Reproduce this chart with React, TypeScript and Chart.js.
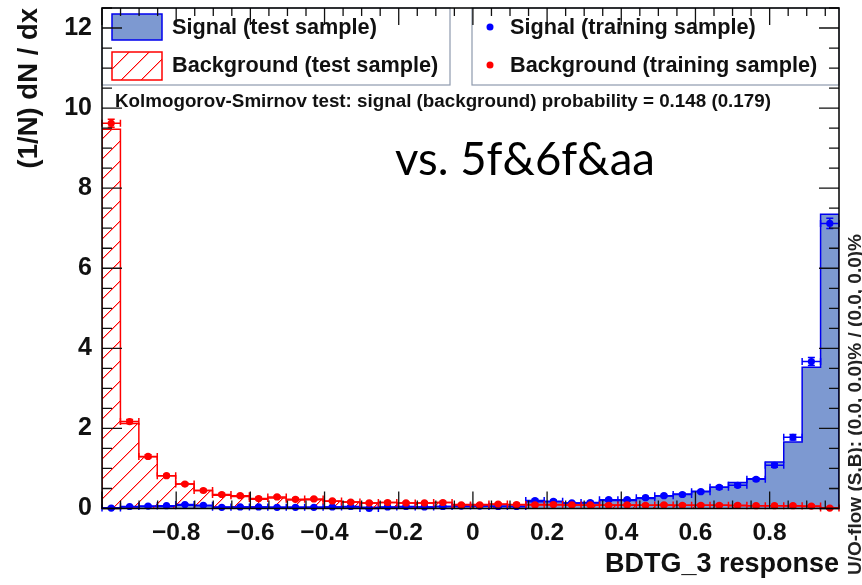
import React, { useEffect, useRef } from 'react';
import { Chart, registerables } from 'chart.js';

Chart.register(...registerables);

// ---- axis range / binning ----
const X_MIN = -1.0;
const X_MAX = 0.987;
const N_BINS = 40;
const Y_MAX = 12.5;

// ---- data (40 bins of BDTG_3 response) ----
const signalTest = [
  0.02, 0.04, 0.05, 0.05, 0.08, 0.07, 0.04, 0.04, 0.04, 0.03,
  0.03, 0.03, 0.04, 0.04, 0.03, 0.03, 0.04, 0.04, 0.05, 0.05,
  0.06, 0.06, 0.05, 0.17, 0.17, 0.14, 0.14, 0.20, 0.20, 0.25,
  0.31, 0.36, 0.43, 0.53, 0.65, 0.74, 1.16, 1.66, 3.53, 7.35,
];
const backgroundTest = [
  9.47, 2.12, 1.29, 0.82, 0.61, 0.45, 0.33, 0.30, 0.23, 0.26,
  0.21, 0.22, 0.18, 0.16, 0.14, 0.15, 0.14, 0.14, 0.15, 0.10,
  0.10, 0.10, 0.09, 0.10, 0.09, 0.09, 0.08, 0.09, 0.08, 0.08,
  0.08, 0.08, 0.08, 0.08, 0.07, 0.07, 0.07, 0.06, 0.05, 0.02,
];
const signalTrain = [
  0.01, 0.05, 0.06, 0.07, 0.10, 0.08, 0.03, 0.04, 0.04, 0.03,
  0.03, 0.03, 0.04, 0.05, 0.00, 0.04, 0.05, 0.04, 0.05, 0.06,
  0.06, 0.05, 0.05, 0.20, 0.18, 0.14, 0.15, 0.22, 0.22, 0.27,
  0.32, 0.35, 0.42, 0.53, 0.58, 0.73, 1.08, 1.78, 3.67, 7.12,
];
const signalTrainErr = [
  0.02, 0.02, 0.02, 0.02, 0.02, 0.02, 0.02, 0.02, 0.02, 0.02,
  0.02, 0.02, 0.02, 0.02, 0.02, 0.02, 0.02, 0.02, 0.02, 0.02,
  0.02, 0.02, 0.02, 0.03, 0.03, 0.03, 0.03, 0.03, 0.03, 0.03,
  0.03, 0.03, 0.03, 0.04, 0.04, 0.04, 0.05, 0.07, 0.10, 0.13,
];
const backgroundTrain = [
  9.62, 2.17, 1.30, 0.82, 0.61, 0.45, 0.35, 0.32, 0.25, 0.29,
  0.23, 0.24, 0.19, 0.16, 0.14, 0.15, 0.14, 0.14, 0.15, 0.09,
  0.09, 0.11, 0.10, 0.09, 0.10, 0.09, 0.09, 0.08, 0.09, 0.08,
  0.09, 0.08, 0.08, 0.08, 0.08, 0.07, 0.07, 0.07, 0.06, 0.01,
];
const backgroundTrainErr = [
  0.10, 0.05, 0.04, 0.03, 0.03, 0.03, 0.03, 0.03, 0.03, 0.03,
  0.03, 0.03, 0.03, 0.03, 0.03, 0.03, 0.03, 0.03, 0.03, 0.03,
  0.03, 0.03, 0.03, 0.03, 0.03, 0.03, 0.03, 0.03, 0.03, 0.03,
  0.03, 0.03, 0.03, 0.03, 0.03, 0.03, 0.03, 0.03, 0.03, 0.03,
];

// ---- ticks / texts ----
const xTickValues = [-0.8, -0.6, -0.4, -0.2, 0, 0.2, 0.4, 0.6, 0.8];
const yTickValues = [0, 2, 4, 6, 8, 10, 12];
const legendLabels = [
  'Signal (test sample)',
  'Background (test sample)',
  'Signal (training sample)',
  'Background (training sample)',
];
const ksText = 'Kolmogorov-Smirnov test: signal (background) probability = 0.148 (0.179)';
const noteText = 'vs. 5f&6f&aa';
const flowText = 'U/O-flow (S,B): (0.0, 0.0)% / (0.0, 0.0)%';
const xTitle = 'BDTG_3 response';
const yTitle = '(1/N) dN / dx';

// ---- styles ----
const SIG_FILL = '#7d99d1';
const SIG_LINE = '#0000ee';
const SIG_MARK = '#0000ff';
const BKG_LINE = '#ff0000';
const FONT = "'Liberation Sans', Arial, Helvetica, sans-serif";

const binWidth = (X_MAX - X_MIN) / N_BINS;

function histPoints(values: number[]) {
  const pts = [{ x: X_MIN, y: 0 }];
  values.forEach((v, i) => pts.push({ x: X_MIN + i * binWidth, y: v }));
  pts.push({ x: X_MAX, y: values[values.length - 1] });
  pts.push({ x: X_MAX, y: 0 });
  return pts;
}
function centerPoints(values: number[]) {
  return values.map((v, i) => ({ x: X_MIN + (i + 0.5) * binWidth, y: v }));
}

// diagonal "/" hatch (pixel staircase, pure red) inside the current clip region
function drawHatch(ctx: CanvasRenderingContext2D, x0: number, y0: number, x1: number, y1: number) {
  ctx.save();
  const X0 = Math.floor(x0), X1 = Math.ceil(x1), Y0 = Math.floor(y0), Y1 = Math.ceil(y1);
  const start = Math.floor((X0 + Y0) / 20) * 20;
  for (let c = start; c <= X1 + Y1 + 20; c += 20) {
    for (let x = X0; x <= X1; x++) {
      const y = c - x;
      if (y < Y0 - 1 || y > Y1 + 1) continue;
      ctx.fillStyle = '#ff0000';
      ctx.fillRect(x, y, 1, 1);
      ctx.fillStyle = 'rgba(255,0,0,0.35)';
      ctx.fillRect(x + 1, y, 1, 1);
    }
  }
  ctx.restore();
}

export default function App() {
  const ref = useRef<HTMLCanvasElement | null>(null);

  useEffect(() => {
    const canvas = ref.current!;
    const errMap: Record<number, number[]> = { 2: signalTrainErr, 3: backgroundTrainErr };

    const decor = {
      id: 'decor',
      beforeDatasetDraw(chart: any, args: any) {
        const { ctx, scales, chartArea: a } = chart;
        const xs = scales.x;
        const ys = scales.y;
        if (args.index === 1) {
          // hatched fill of the background test histogram
          ctx.save();
          ctx.beginPath();
          ctx.moveTo(xs.getPixelForValue(X_MIN), ys.getPixelForValue(0));
          backgroundTest.forEach((v, i) => {
            const py = ys.getPixelForValue(v);
            ctx.lineTo(xs.getPixelForValue(X_MIN + i * binWidth), py);
            ctx.lineTo(xs.getPixelForValue(X_MIN + (i + 1) * binWidth), py);
          });
          ctx.lineTo(xs.getPixelForValue(X_MAX), ys.getPixelForValue(0));
          ctx.closePath();
          ctx.clip();
          drawHatch(ctx, a.left, a.top, a.right, a.bottom);
          ctx.restore();
          return;
        }
        const err = errMap[args.index];
        if (!err) return;
        const ds = chart.data.datasets[args.index];
        ctx.save();
        ctx.strokeStyle = ds.borderColor;
        ctx.lineWidth = 1.5;
        ctx.beginPath();
        ds.data.forEach((p: any, i: number) => {
          const x0 = xs.getPixelForValue(p.x - binWidth / 2);
          const x1 = xs.getPixelForValue(p.x + binWidth / 2);
          const xc = xs.getPixelForValue(p.x);
          const yc = ys.getPixelForValue(p.y);
          const yl = ys.getPixelForValue(p.y - err[i]);
          const yh = ys.getPixelForValue(p.y + err[i]);
          ctx.moveTo(x0, yc);
          ctx.lineTo(x1, yc);
          ctx.moveTo(x0, yc - 3.5);
          ctx.lineTo(x0, yc + 3.5);
          ctx.moveTo(x1, yc - 3.5);
          ctx.lineTo(x1, yc + 3.5);
          ctx.moveTo(xc, yl);
          ctx.lineTo(xc, yh);
          ctx.moveTo(xc - 3.5, yl);
          ctx.lineTo(xc + 3.5, yl);
          ctx.moveTo(xc - 3.5, yh);
          ctx.lineTo(xc + 3.5, yh);
        });
        ctx.stroke();
        ctx.restore();
      },
      afterDatasetsDraw(chart: any) {
        const { ctx, chartArea: a, scales } = chart;
        const xs = scales.x;
        const ys = scales.y;
        ctx.save();

        // legend boxes
        ctx.strokeStyle = '#8e9aad';
        ctx.lineWidth = 1.2;
        ctx.strokeRect(a.left, a.top, 348, 77);
        ctx.strokeRect(472, a.top, a.right - 472, 77);

        ctx.fillStyle = SIG_FILL;
        ctx.fillRect(112, 14, 50, 26);
        ctx.strokeStyle = SIG_LINE;
        ctx.lineWidth = 1.5;
        ctx.strokeRect(112, 14, 50, 26);
        ctx.save();
        ctx.beginPath();
        ctx.rect(112, 52, 50, 28);
        ctx.clip();
        drawHatch(ctx, 112, 52, 162, 80);
        ctx.restore();
        ctx.strokeStyle = BKG_LINE;
        ctx.lineWidth = 1.5;
        ctx.strokeRect(112, 52, 50, 28);

        ctx.fillStyle = SIG_MARK;
        ctx.beginPath();
        ctx.arc(490, 27, 3.5, 0, Math.PI * 2);
        ctx.fill();
        ctx.fillStyle = BKG_LINE;
        ctx.beginPath();
        ctx.arc(490, 65, 3.5, 0, Math.PI * 2);
        ctx.fill();

        ctx.fillStyle = '#111';
        ctx.font = `bold 21.7px ${FONT}`;
        ctx.textBaseline = 'middle';
        ctx.textAlign = 'left';
        ctx.fillText(legendLabels[0], 172, 28);
        ctx.fillText(legendLabels[1], 172, 66);
        ctx.fillText(legendLabels[2], 510, 28);
        ctx.fillText(legendLabels[3], 510, 66);

        ctx.font = `bold 18.8px ${FONT}`;
        ctx.fillText(ksText, 115, 102);

        ctx.font = `45.5px Lato, 'Open Sans', sans-serif`;
        ctx.textAlign = 'center';
        ctx.fillStyle = '#000';
        ctx.fillText(noteText, 525, 160);

        // ticks
        ctx.strokeStyle = '#111';
        ctx.lineWidth = 1.3;
        ctx.beginPath();
        for (let k = 0; k <= 25; k++) {
          const v = k * 0.5;
          const py = ys.getPixelForValue(v);
          const len = k % 4 === 0 ? 20 : 10;
          ctx.moveTo(a.left, py);
          ctx.lineTo(a.left + len, py);
          ctx.moveTo(a.right, py);
          ctx.lineTo(a.right - len, py);
        }
        for (let k = -20; k <= 20; k++) {
          const v = k * 0.05;
          if (v < X_MIN - 1e-9 || v > X_MAX) continue;
          const px = xs.getPixelForValue(v);
          const len = k % 4 === 0 ? 17 : 8;
          ctx.moveTo(px, a.bottom);
          ctx.lineTo(px, a.bottom - len);
          ctx.moveTo(px, a.top);
          ctx.lineTo(px, a.top + len);
        }
        ctx.stroke();
        ctx.lineWidth = 1.5;
        ctx.strokeStyle = '#000';
        ctx.strokeRect(a.left, a.top, a.right - a.left, a.bottom - a.top);

        // under/overflow text
        ctx.translate(856, 575);
        ctx.rotate(-Math.PI / 2);
        ctx.font = `bold 19px ${FONT}`;
        ctx.fillStyle = '#222';
        ctx.textAlign = 'left';
        ctx.textBaseline = 'middle';
        ctx.fillText(flowText, 0, 0);
        ctx.restore();
      },
    };

    const chart = new Chart(canvas, {
      type: 'line',
      data: {
        datasets: [
          {
            label: legendLabels[0],
            data: histPoints(signalTest),
            stepped: true,
            borderColor: SIG_LINE,
            backgroundColor: SIG_FILL,
            borderWidth: 1.5,
            fill: 'origin',
            pointRadius: 0,
            order: 4,
          },
          {
            label: legendLabels[1],
            data: histPoints(backgroundTest),
            stepped: true,
            borderColor: BKG_LINE,
            backgroundColor: 'rgba(0,0,0,0)',
            borderWidth: 1.5,
            fill: false,
            pointRadius: 0,
            order: 3,
          },
          {
            label: legendLabels[2],
            data: centerPoints(signalTrain),
            showLine: false,
            borderColor: SIG_MARK,
            backgroundColor: SIG_MARK,
            pointRadius: 3.6,
            pointBorderWidth: 0,
            clip: false,
            order: 2,
          },
          {
            label: legendLabels[3],
            data: centerPoints(backgroundTrain),
            showLine: false,
            borderColor: BKG_LINE,
            backgroundColor: BKG_LINE,
            pointRadius: 3.6,
            pointBorderWidth: 0,
            clip: false,
            order: 1,
          },
        ] as any,
      },
      options: {
        animation: false,
        responsive: false,
        maintainAspectRatio: false,
        layout: { padding: { left: 0, top: 8, right: 23, bottom: 0 } },
        plugins: { legend: { display: false }, tooltip: { enabled: false } },
        scales: {
          x: {
            type: 'linear',
            min: X_MIN,
            max: X_MAX,
            afterBuildTicks: (s: any) => {
              s.ticks = xTickValues.map((v) => ({ value: v }));
            },
            afterFit: (s: any) => {
              s.height = 76.5;
              s.paddingLeft = 0;
              s.paddingRight = 0;
            },
            grid: { display: false, drawTicks: false },
            border: { display: false },
            ticks: {
              autoSkip: false,
              maxRotation: 0,
              padding: 10,
              color: '#111',
              font: { family: FONT, size: 24.5, weight: 'bold' },
              callback: (v: any) => {
                const n = Number(v);
                if (Math.abs(n) < 1e-9) return '0';
                return n < 0 ? '\u2212' + Math.abs(n).toFixed(1) : n.toFixed(1);
              },
            },
            title: {
              display: true,
              text: xTitle,
              align: 'end',
              color: '#111',
              font: { family: FONT, size: 27, weight: 'bold' },
              padding: { top: 0, bottom: 4 },
            },
          },
          y: {
            type: 'linear',
            min: 0,
            max: Y_MAX,
            afterBuildTicks: (s: any) => {
              s.ticks = yTickValues.map((v) => ({ value: v }));
            },
            afterFit: (s: any) => {
              s.width = 102;
              s.paddingTop = 0;
              s.paddingBottom = 0;
            },
            grid: { display: false, drawTicks: false },
            border: { display: false },
            ticks: {
              padding: 10,
              color: '#111',
              font: { family: FONT, size: 25, weight: 'bold' },
              callback: (v: any) => String(v),
            },
            title: {
              display: true,
              text: yTitle,
              align: 'end',
              color: '#111',
              font: { family: FONT, size: 27.5, weight: 'bold' },
              padding: { top: 13, bottom: 0 },
            },
          },
        },
      } as any,
      plugins: [decor],
    });

    return () => chart.destroy();
  }, []);

  return (
    <div style={{ position: 'absolute', left: 0, top: 0, width: 862, height: 585, background: '#fff' }}>
      <canvas ref={ref} width={862} height={585} style={{ display: 'block', width: 862, height: 585 }} />
    </div>
  );
}
